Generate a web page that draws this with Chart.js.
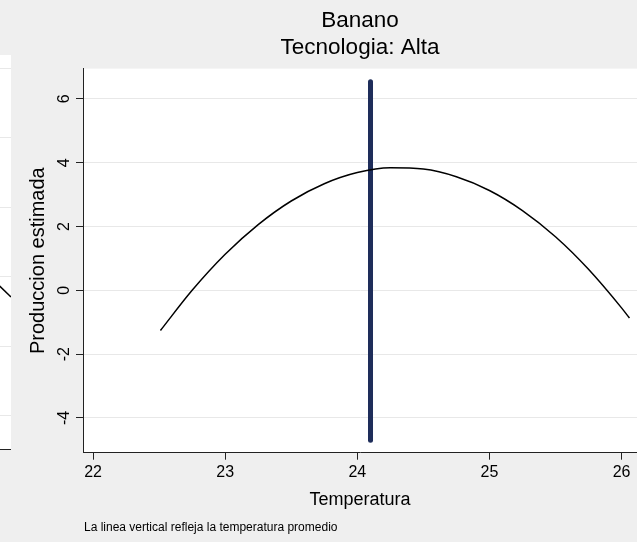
<!DOCTYPE html>
<html>
<head>
<meta charset="utf-8">
<script src="https://cdn.jsdelivr.net/npm/chart.js@4.4.1/dist/chart.umd.min.js"></script>
<style>
  html, body { margin: 0; padding: 0; background: #efefef; overflow: hidden; }
  #panelIzq { position: absolute; left: -289px; top: 0; }
  #grafico { position: absolute; left: 0; top: 0; }
</style>
</head>
<body>
<canvas id="panelIzq" width="300" height="542"></canvas>
<canvas id="grafico" width="637" height="542"></canvas>
<script>
// Datos
const tempCurva = [22.51, 22.75, 23.0, 23.25, 23.5, 23.75, 24.0, 24.25, 24.5, 24.75, 25.0, 25.25, 25.5, 25.75, 26.0, 26.06];
const prodCurva = [-1.26, 0.00, 1.13, 2.06, 2.80, 3.34, 3.69, 3.84, 3.80, 3.56, 3.13, 2.50, 1.68, 0.66, -0.55, -0.87];
const tempPromedio = 24.1;
const lineaVertical = [-4.7, 6.54];
const ticksX = [22, 23, 24, 25, 26];
const ticksY = [-4, -2, 0, 2, 4, 6];
const titulo = ["Banano", "Tecnologia: Alta"];
const nota = "La linea vertical refleja la temperatura promedio";

// panel vecino (cortado a la izquierda)
const izqX = [9.4, 10];
const izqY = [1.96, 1.71];
const izqTicks = [0, 1, 2, 3, 4, 5];

const fuente = "'Liberation Sans', Arial, sans-serif";

// fondo blanco del area de trazado
const fondoArea = {
    id: "fondoArea",
    beforeDraw(chart) {
        const a = chart.chartArea;
        chart.ctx.save();
        chart.ctx.fillStyle = "#ffffff";
        chart.ctx.fillRect(a.left, a.top, a.right - a.left, a.bottom - a.top);
        chart.ctx.restore();
    }
};

// nota al pie
const notaPie = {
    id: "notaPie",
    afterDraw(chart) {
        const ctx = chart.ctx;
        ctx.save();
        ctx.font = "12px " + fuente;
        ctx.fillStyle = "#000";
        ctx.textBaseline = "middle";
        ctx.fillText(nota, chart.chartArea.left + 1, 528);
        ctx.restore();
    }
};

new Chart(document.getElementById("grafico"), {
    type: "line",
    data: {
        datasets: [
            {
                data: tempCurva.map((t, i) => ({x: t, y: prodCurva[i]})),
                borderColor: "#000000",
                borderWidth: 1.5,
                pointRadius: 0,
                tension: 0.4,
                cubicInterpolationMode: "monotone"
            },
            {
                data: lineaVertical.map(v => ({x: tempPromedio, y: v})),
                borderColor: "#1e2d5a",
                borderWidth: 5,
                borderCapStyle: "round",
                pointRadius: 0
            }
        ]
    },
    options: {
        responsive: false,
        animation: false,
        layout: {padding: 0},
        plugins: {
            legend: {display: false},
            tooltip: {enabled: false},
            title: {
                display: true,
                fullSize: false,
                text: titulo,
                color: "#000",
                font: {family: fuente, size: 22.5, weight: "normal", lineHeight: 1.18},
                padding: {top: 8, bottom: 7.5}
            }
        },
        scales: {
            x: {
                type: "linear",
                min: 21.924,
                max: 26.117,
                afterBuildTicks(s) { s.ticks = ticksX.map(v => ({value: v})); },
                afterFit(s) { s.height = 89.3; },
                border: {color: "#222", width: 1},
                grid: {drawOnChartArea: false, drawTicks: true, tickLength: 7, tickColor: "#222"},
                ticks: {color: "#000", padding: 3, font: {family: fuente, size: 16}},
                title: {
                    display: true,
                    text: "Temperatura",
                    color: "#000",
                    font: {family: fuente, size: 18},
                    padding: {top: 0, bottom: 31}
                }
            },
            y: {
                type: "linear",
                min: -5.09,
                max: 6.95,
                afterBuildTicks(s) { s.ticks = ticksY.map(v => ({value: v})); },
                afterFit(s) { s.width = 83; },
                border: {color: "#222", width: 1},
                grid: {color: "#e8e8e8", lineWidth: 1, drawTicks: true, tickLength: 7, tickColor: "#222"},
                ticks: {
                    color: "#000",
                    padding: 4,
                    minRotation: 90,
                    maxRotation: 90,
                    crossAlign: "center",
                    font: {family: fuente, size: 16}
                },
                title: {
                    display: true,
                    text: "Produccion estimada",
                    color: "#000",
                    font: {family: fuente, size: 20},
                    padding: {top: 26, bottom: 0}
                }
            }
        }
    },
    plugins: [fondoArea, notaPie]
});

new Chart(document.getElementById("panelIzq"), {
    type: "line",
    data: {
        datasets: [{
            data: izqX.map((x, i) => ({x: x, y: izqY[i]})),
            borderColor: "#000000",
            borderWidth: 1.5,
            pointRadius: 0
        }]
    },
    options: {
        responsive: false,
        animation: false,
        layout: {padding: {top: 55, bottom: 92.7, left: 0, right: 0}},
        plugins: {legend: {display: false}, tooltip: {enabled: false}},
        scales: {
            x: {
                type: "linear",
                min: 0,
                max: 10,
                afterFit(s) { s.height = 0; },
                border: {color: "#222", width: 1},
                grid: {display: false},
                ticks: {display: false}
            },
            y: {
                type: "linear",
                min: -0.48,
                max: 5.19,
                afterBuildTicks(s) { s.ticks = izqTicks.map(v => ({value: v})); },
                afterFit(s) { s.width = 0; },
                border: {display: false},
                grid: {color: "#e8e8e8", drawTicks: false},
                ticks: {display: false}
            }
        }
    },
    plugins: [fondoArea]
});
</script>
</body>
</html>
